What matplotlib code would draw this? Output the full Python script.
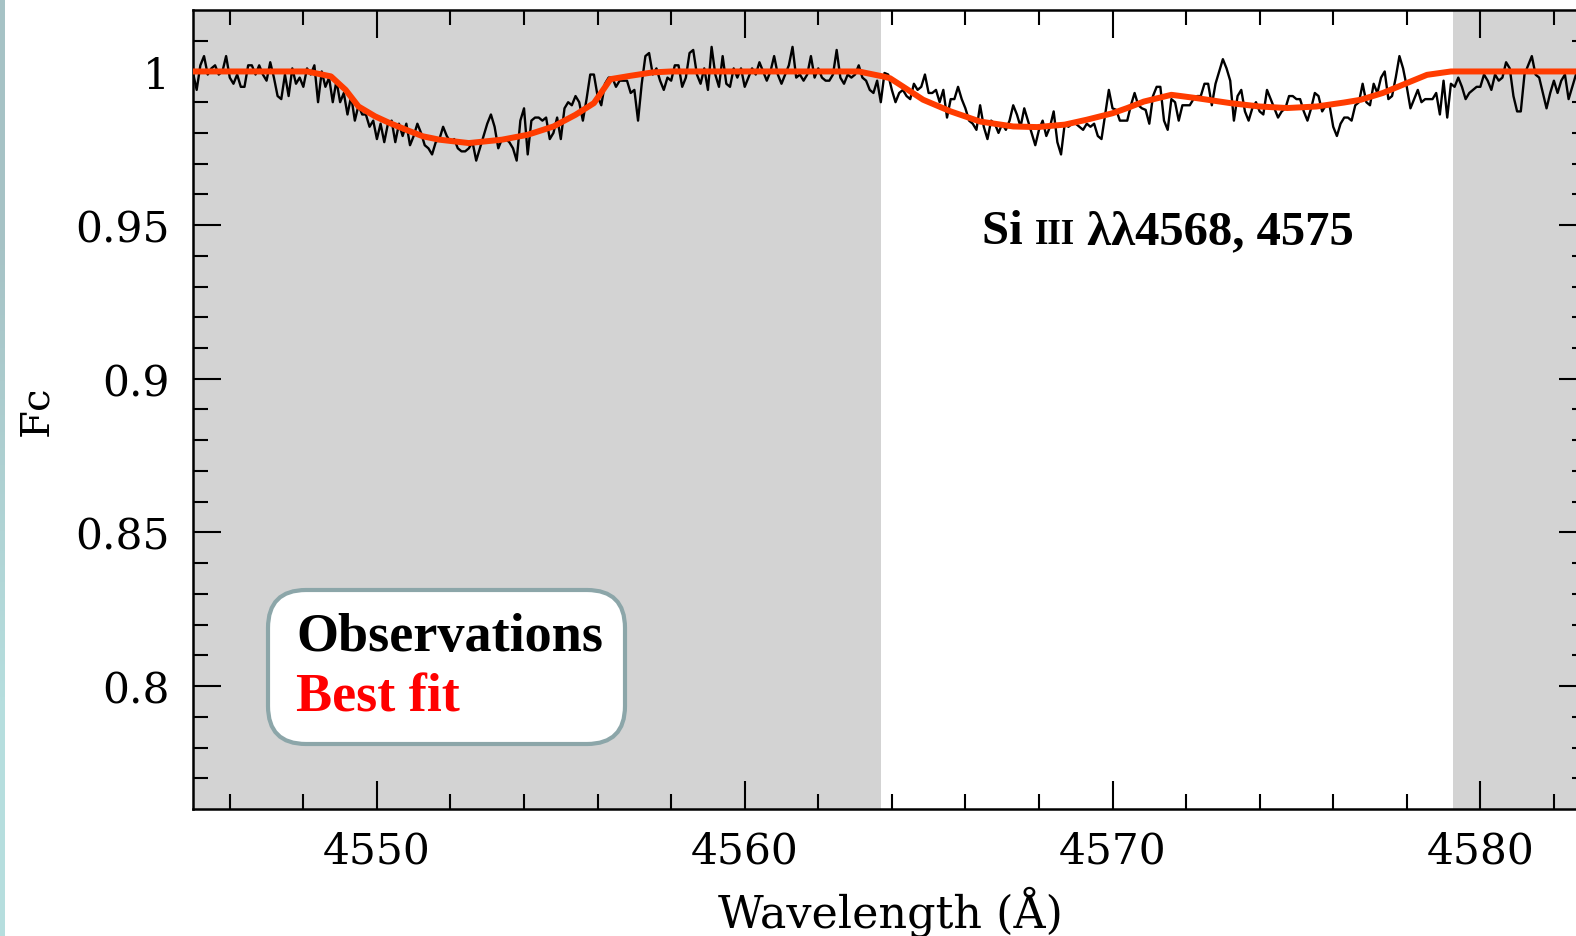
import matplotlib
matplotlib.use("Agg")

import numpy as np
import matplotlib.pyplot as plt
from matplotlib.lines import Line2D
from matplotlib.offsetbox import TextArea, HPacker, AnnotationBbox


# -----------------------------
# DATA
# -----------------------------
wave_start = 4545.0
wave_step = 0.1

# observed normalised flux, one row per Angstrom
obs_flux = [
    0.9995, 0.994, 1.002, 1.005, 0.999, 1.001, 1.002, 0.999, 1.000, 1.005,
    0.998, 0.996, 0.999, 0.995, 0.995, 1.002, 1.002, 0.999, 1.002, 0.999,
    0.997, 1.003, 0.998, 0.992, 0.991, 0.999, 0.992, 1.001, 0.996, 0.998,
    0.995, 1.001, 0.999, 1.002, 0.990, 1.000, 0.995, 0.998, 0.990, 0.997,
    0.990, 0.993, 0.986, 0.992, 0.984, 0.989, 0.986, 0.986, 0.982, 0.984,
    0.978, 0.983, 0.977, 0.983, 0.984, 0.977, 0.983, 0.979, 0.983, 0.976,
    0.979, 0.983, 0.980, 0.976, 0.975, 0.973, 0.977, 0.978, 0.982, 0.979,
    0.977, 0.978, 0.975, 0.974, 0.974, 0.975, 0.977, 0.971, 0.975, 0.979,
    0.983, 0.986, 0.982, 0.975, 0.978, 0.978, 0.977, 0.975, 0.971, 0.984,
    0.988, 0.973, 0.984, 0.985, 0.985, 0.984, 0.985, 0.978, 0.980, 0.985,
    0.978, 0.988, 0.990, 0.989, 0.992, 0.990, 0.984, 0.991, 0.999, 0.999,
    0.992, 0.989, 0.996, 0.998, 0.998, 0.995, 0.997, 0.997, 0.997, 0.993,
    0.994, 0.984, 0.996, 1.005, 1.006, 0.999, 1.001, 0.997, 0.994, 0.998,
    0.997, 1.002, 1.002, 0.995, 0.998, 1.006, 1.007, 0.999, 0.996, 1.001,
    0.994, 1.008, 0.999, 0.995, 1.005, 0.996, 0.995, 1.001, 0.998, 1.001,
    0.995, 0.998, 1.001, 0.999, 1.003, 1.000, 0.997, 1.000, 1.005, 0.999,
    0.996, 0.999, 1.002, 1.008, 0.998, 0.999, 0.997, 0.999, 1.005, 0.998,
    1.001, 0.998, 0.997, 0.997, 0.999, 1.007, 0.998, 0.996, 0.999, 0.998,
    0.999, 1.002, 0.998, 0.997, 0.994, 0.993, 0.997, 0.990, 0.9995, 0.999,
    0.994, 0.990, 0.993, 0.994, 0.992, 0.991, 0.996, 0.994, 0.995, 0.999,
    0.993, 0.993, 0.994, 0.990, 0.994, 0.985, 0.991, 0.991, 0.995, 0.991,
    0.988, 0.984, 0.983, 0.981, 0.989, 0.982, 0.978, 0.984, 0.983, 0.980,
    0.983, 0.981, 0.984, 0.989, 0.986, 0.982, 0.988, 0.984, 0.980, 0.976,
    0.981, 0.984, 0.979, 0.982, 0.987, 0.977, 0.973, 0.983, 0.982, 0.983,
    0.983, 0.982, 0.981, 0.983, 0.982, 0.983, 0.979, 0.978, 0.986, 0.994,
    0.988, 0.9875, 0.984, 0.984, 0.984, 0.989, 0.993, 0.989, 0.988, 0.9875,
    0.983, 0.992, 0.995, 0.995, 0.984, 0.981, 0.991, 0.990, 0.984, 0.989,
    0.989, 0.989, 0.991, 0.992, 0.992, 0.996, 0.996, 0.989, 0.996, 1.000,
    1.004, 1.001, 0.997, 0.984, 0.992, 0.994, 0.987, 0.984, 0.988, 0.990,
    0.987, 0.986, 0.994, 0.991, 0.988, 0.985, 0.987, 0.988, 0.992, 0.992,
    0.991, 0.991, 0.987, 0.984, 0.988, 0.993, 0.992, 0.987, 0.989, 0.989,
    0.982, 0.979, 0.983, 0.985, 0.985, 0.984, 0.989, 0.990, 0.996, 0.990,
    0.989, 0.996, 0.993, 0.998, 1.000, 0.991, 0.992, 0.998, 1.005, 1.001,
    0.995, 0.988, 0.991, 0.994, 0.990, 0.991, 0.991, 0.991, 0.993, 0.986,
    0.997, 0.985, 0.996, 0.995, 0.998, 0.995, 0.991, 0.993, 0.994, 0.995,
    0.995, 0.999, 0.997, 0.994, 0.999, 0.997, 0.998, 1.003, 1.001, 0.992,
    0.987, 0.987, 0.999, 1.002, 1.005, 0.999, 0.998, 0.993, 0.988, 0.993,
    0.997, 0.993, 0.997, 0.999, 0.991, 0.995, 0.999,
]

# best fit model
fit_wave = [4545.0, 4548.1, 4548.75, 4549.15, 4549.5, 4549.95, 4550.35, 4550.8,
            4551.25, 4551.7, 4552.5, 4553.4, 4554.1, 4554.8, 4555.4, 4555.9,
            4556.15, 4556.35, 4556.9, 4557.5, 4558.0, 4563.1, 4563.3, 4563.75,
            4563.95, 4564.3, 4564.85, 4565.6, 4566.4, 4567.3, 4567.95, 4568.7,
            4569.3, 4570.0, 4570.4, 4570.85, 4571.6, 4572.3, 4573.2, 4574.0,
            4574.75, 4575.55, 4576.3, 4576.75, 4577.35, 4578.1, 4578.55, 4579.2,
            4583.0]
fit_flux = [1.0, 1.0, 0.9984, 0.994, 0.9886, 0.9854, 0.9832, 0.981,
            0.9789, 0.9778, 0.9767, 0.9778, 0.9794, 0.9821, 0.9859, 0.9897,
            0.994, 0.9975, 0.9986, 0.9997, 1.0, 1.0, 0.9995, 0.9984,
            0.9978, 0.9951, 0.9908, 0.987, 0.9837, 0.9821, 0.9819, 0.9827,
            0.9843, 0.9864, 0.9881, 0.9902, 0.9924, 0.9913, 0.9897, 0.9886,
            0.9881, 0.9886, 0.9899, 0.9908, 0.993, 0.9967, 0.9989, 1.0,
            1.0]

# masked (shaded) wavelength ranges
shade_lo = [4545.0, 4579.25]
shade_hi = [4563.7, 4583.0]

x_ticks = [4550, 4560, 4570, 4580]
y_ticks = [0.8, 0.85, 0.9, 0.95, 1.0]
y_tick_labels = ["0.8", "0.85", "0.9", "0.95", "1"]

obs_wave = np.round(wave_start + wave_step * np.arange(len(obs_flux)), 2)

# -----------------------------
# FIGURE
# -----------------------------
fig = plt.figure(figsize=(15.76, 9.37), dpi=100)

# thin teal strip on the left edge
strip = fig.add_axes([0, 0, 5 / 1576, 1])
strip.imshow([[0.0], [1.0]], aspect="auto", cmap=matplotlib.colors.LinearSegmentedColormap.from_list(
    "strip", ["#a6c2c5", "#b6dede"]), interpolation="bilinear")
strip.axis("off")

ax = fig.add_axes([193 / 1576, 127 / 937, 1394 / 1576, 799 / 937])

for lo, hi in zip(shade_lo, shade_hi):
    ax.axvspan(lo, hi, color="#d3d3d3", lw=0, zorder=0)

ax.plot(obs_wave, obs_flux, color="black", lw=1.7, zorder=2)
ax.plot(fit_wave, fit_flux, color="#ff3c00", lw=4.3, zorder=3,
        solid_joinstyle="round", solid_capstyle="round")

ax.set_xlim(4545.0, 4582.9)
ax.set_ylim(0.76, 1.02)

ax.set_xticks(x_ticks)
ax.set_xticks(np.arange(4546, 4583, 2), minor=True)
ax.set_yticks(y_ticks)
ax.set_yticklabels(y_tick_labels)
ax.set_yticks(np.arange(0.77, 1.015, 0.01), minor=True)

ax.tick_params(which="both", direction="in", top=True, right=True, width=1.5,
               labelsize=30.5, labelfontfamily="DejaVu Serif")
ax.tick_params(which="major", length=20)
ax.tick_params(which="minor", length=11)
ax.tick_params(axis="x", pad=15)
ax.tick_params(axis="y", pad=17)
for sp in ax.spines.values():
    sp.set_linewidth(1.8)

ax.set_xlabel("Wavelength (Å)", fontsize=32, family="DejaVu Serif", labelpad=10)
ax.set_ylabel("Fc", fontsize=29, family="DejaVu Serif", labelpad=14)

# -----------------------------
# LEGEND
# -----------------------------
handles = [Line2D([], [], lw=0), Line2D([], [], lw=0)]
leg = ax.legend(handles, ["Observations", "Best fit"], loc="lower left",
                bbox_to_anchor=(0.0538, 0.081), borderaxespad=0,
                handlelength=0, handletextpad=0.12, labelspacing=0.2,
                borderpad=0.4, fancybox=True, framealpha=1,
                labelcolor=["black", "red"],
                prop={"family": "Liberation Serif", "weight": "bold", "size": 39})
frame = leg.get_frame()
frame.set_edgecolor("#8ca6a9")
frame.set_linewidth(3)
frame.set_boxstyle("round", pad=0, rounding_size=0.7)

# -----------------------------
# LINE ANNOTATION
# -----------------------------
big = {"family": "Liberation Serif", "weight": "bold", "size": 35}
small = {"family": "Liberation Serif", "weight": "bold", "size": 25}
label = HPacker(children=[TextArea("Si ", textprops=big),
                          TextArea("III", textprops=small),
                          TextArea(" λλ4568, 4575", textprops=big)],
                align="baseline", pad=0, sep=0)
ab = AnnotationBbox(label, (4566.45, 0.948), xycoords="data",
                    box_alignment=(0, 0.5), frameon=False, pad=0)
ax.add_artist(ab)

plt.savefig("out.png", dpi=100)
plt.close()
